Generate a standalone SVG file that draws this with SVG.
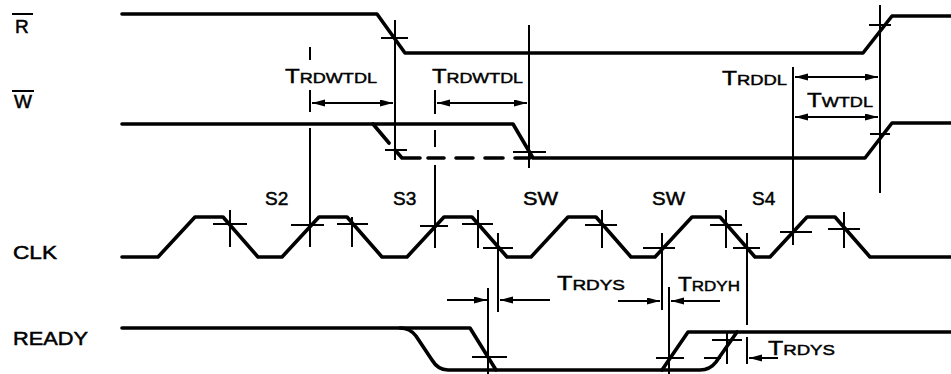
<svg xmlns="http://www.w3.org/2000/svg" width="951" height="374" viewBox="0 0 951 374">
<style>
.sig{fill:none;stroke:#000;stroke-width:3.6;stroke-linejoin:round;stroke-linecap:round}
.thin{fill:none;stroke:#000;stroke-width:2}
.tick{fill:none;stroke:#000;stroke-width:2}
.arr{fill:none;stroke:#000;stroke-width:2;marker-end:url(#ah)}
.arr2{fill:none;stroke:#000;stroke-width:2;marker-start:url(#ah);marker-end:url(#ah)}
.lbl{font-family:"Liberation Sans",Arial,sans-serif;font-size:19px;fill:#000;stroke:#000;stroke-width:0.5}
.t{font-family:"Liberation Sans",Arial,sans-serif;font-size:20px;fill:#000;stroke:#000;stroke-width:0.45}
.s{font-size:15px}
</style>
<defs>
<marker id="ah" markerUnits="userSpaceOnUse" markerWidth="14" markerHeight="8" refX="13" refY="3.5" orient="auto-start-reverse">
<path d="M0,0 L13,3.5 L0,7 z" fill="#000"/>
</marker>
</defs>
<rect width="951" height="374" fill="#fff"/>

<g id="sig-R">
<text class="lbl" x="15" y="33">R</text>
<line class="thin" x1="12" y1="14" x2="33" y2="14" stroke-width="2.5"/>
<path class="sig" d="M122,14 H377 L405,53 H863 L892,16 H951"/>
<path class="tick" d="M381,38 H408 M869,25 H891"/>
</g>

<g id="sig-W">
<text class="lbl" x="14" y="108">W</text>
<line class="thin" x1="12" y1="91" x2="34" y2="91" stroke-width="2.5"/>
<path class="sig" d="M122,124 H513 L533,158 H865 L892,123 H951"/>
<path class="sig" d="M373,124 L389,143 M395,150 L402,158 H420 M428,158 H444 M456,158 H473 M485,158 H503 M515,158 H530"/>
<path class="tick" d="M385,150 H407 M513,152 H546 M870,134 H890"/>
</g>

<g id="sig-CLK">
<text class="lbl" x="13" y="259" textLength="44" lengthAdjust="spacingAndGlyphs">CLK</text>
<path class="sig" d="M122,257 H158 L195,217 H223 L258,257 H282 L319,217 H347 L382,257 H407 L444,217 H472 L507,257 H531 L568,217 H596 L631,257 H655 L692,217 H720 L755,257 H770 L807,217 H835 L870,257 H951"/>
<path class="tick" d="M230,210 V247 M213,224 H247 M291,225 H324 M352,217 V247 M337,224 H368 M420,226 H448 M478,210 V248 M462,224 H493 M483,248 H513 M602,210 V248 M585,225 H617 M643,248 H675 M726,210 V248 M710,225 H742 M733,248 H760 M780,232 H812 M844,212 V248 M828,229 H860"/>
<text class="lbl" x="265" y="205">S2</text>
<text class="lbl" x="393" y="205">S3</text>
<text class="lbl" x="523" y="205" textLength="35" lengthAdjust="spacingAndGlyphs">SW</text>
<text class="lbl" x="652" y="205" textLength="33" lengthAdjust="spacingAndGlyphs">SW</text>
<text class="lbl" x="752" y="205">S4</text>
</g>

<g id="sig-READY">
<text class="lbl" x="13" y="345" textLength="75" lengthAdjust="spacingAndGlyphs">READY</text>
<path class="sig" d="M122,328 H470 L496,370 H700 Q710,370 716,362 L737,332"/>
<path class="sig" d="M400,328 Q410,328 416,336 L432,360 Q438,370 448,370 H496"/>
<path class="sig" d="M662,370 L688,332 H951"/>
<path class="tick" d="M472,357 H507 M656,358 H684 M727,333 V364 M712,340 H742 M704,358 H721"/>
</g>

<g id="connectors">
<path class="thin" d="M310,47 V60 M310,90 V112 M310,128 V247 M395,20 V160 M435,90 V114 M435,130 V147 M435,165 V248 M529,25 V168 M793,67 V245 M880,5 V193 M498,233 V312 M488,288 V374 M662,233 V310 M669,287 V374 M747,233 V325 M747,337 V364"/>
<line class="arr2" x1="312" y1="103" x2="393" y2="103"/>
<line class="arr2" x1="437" y1="103" x2="527" y2="103"/>
<line class="arr2" x1="795" y1="77" x2="878" y2="77"/>
<line class="arr2" x1="795" y1="117" x2="878" y2="117"/>
<line class="arr" x1="447" y1="300" x2="487" y2="300"/>
<line class="arr" x1="550" y1="300" x2="500" y2="300"/>
<line class="arr" x1="618" y1="301" x2="660" y2="301"/>
<line class="arr" x1="720" y1="301" x2="671" y2="301"/>
<line class="arr" x1="778" y1="358" x2="749" y2="358"/>
</g>

<g id="labels">
<text class="t" x="285" y="83" textLength="92" lengthAdjust="spacingAndGlyphs">T<tspan class="s">RDWTDL</tspan></text>
<text class="t" x="432" y="83" textLength="91" lengthAdjust="spacingAndGlyphs">T<tspan class="s">RDWTDL</tspan></text>
<text class="t" x="722" y="85" textLength="65" lengthAdjust="spacingAndGlyphs">T<tspan class="s">RDDL</tspan></text>
<text class="t" x="807" y="107" textLength="66" lengthAdjust="spacingAndGlyphs">T<tspan class="s">WTDL</tspan></text>
<text class="t" x="557" y="290" textLength="68" lengthAdjust="spacingAndGlyphs">T<tspan class="s">RDYS</tspan></text>
<text class="t" x="678" y="291" textLength="62" lengthAdjust="spacingAndGlyphs">T<tspan class="s">RDYH</tspan></text>
<text class="t" x="768" y="355" textLength="67" lengthAdjust="spacingAndGlyphs">T<tspan class="s">RDYS</tspan></text>
</g>
</svg>
